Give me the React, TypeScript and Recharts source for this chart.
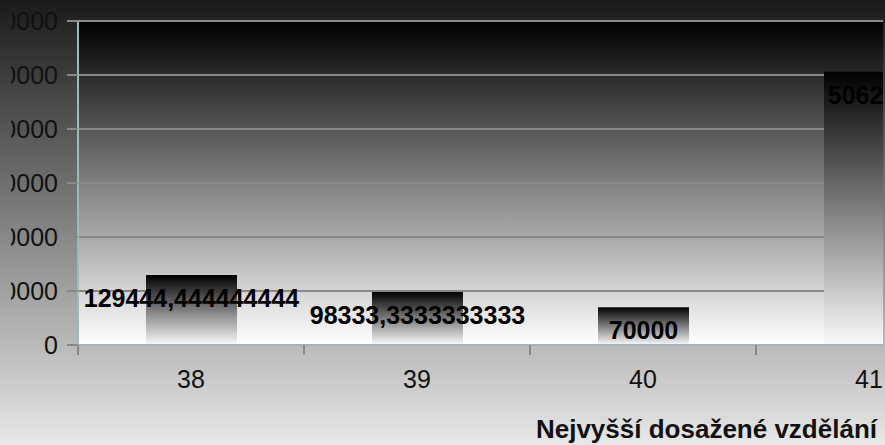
import { BarChart, Bar, XAxis, YAxis, CartesianGrid, LabelList } from "recharts";

const educationLevels = ["38", "39", "40", "41"];
const averageIncome = [129444.444444444, 98333.3333333333, 70000, 506250];
const yTicks = [0, 100000, 200000, 300000, 400000, 500000, 600000];
const axisTitle = "Nejvyšší dosažené vzdělání";

const data = educationLevels.map((level, i) => ({ level, income: averageIncome[i] }));

const FONT = '"Liberation Sans", Arial, sans-serif';
const CLIP_LEFT = 11;

// tick label at the category centre, tick mark on the category boundary
function EduTick(props: any) {
  const { x, y, payload } = props;
  const edge = x - (payload.offset ?? 0);
  return (
    <g>
      <line x1={edge} y1={y} x2={edge} y2={y + 10} stroke="#888" strokeWidth={2} />
      <text
        x={x}
        y={y + 34}
        textAnchor="middle"
        dominantBaseline="central"
        fontSize={25}
        fill="#111"
        fontFamily={FONT}
      >
        {payload.value}
      </text>
    </g>
  );
}

function ValueLabel(props: any) {
  const { x, y, width, value } = props;
  return (
    <text
      x={Number(x) + Number(width) / 2}
      y={Number(y) + 23}
      textAnchor="middle"
      dominantBaseline="central"
      fontSize={25}
      fontWeight="bold"
      fill="#000"
      fontFamily={FONT}
    >
      {String(value).replace(".", ",")}
    </text>
  );
}

export default function App() {
  return (
    <div
      style={{
        position: "absolute",
        left: 0,
        top: 0,
        width: 885,
        height: 445,
        background: "linear-gradient(to bottom, #1a1a1a, #e8e8e8)",
        fontFamily: FONT,
      }}
    >
      <div
        style={{
          position: "absolute",
          left: CLIP_LEFT,
          top: 0,
          width: 883 - CLIP_LEFT,
          height: 445,
          overflow: "hidden",
        }}
      >
        <div style={{ marginLeft: -CLIP_LEFT }}>
          <BarChart width={990} height={445} data={data} margin={{ top: 21, right: 8, left: 0, bottom: 0 }}>
            <defs>
              <linearGradient id="plotBg" x1="0" y1="0" x2="0" y2="1">
                <stop offset="0%" stopColor="#000" />
                <stop offset="100%" stopColor="#fff" />
              </linearGradient>
              <linearGradient id="barFill" x1="0" y1="0" x2="0" y2="1">
                <stop offset="0%" stopColor="#000" />
                <stop offset="100%" stopColor="#fafafa" />
              </linearGradient>
            </defs>
            <CartesianGrid vertical={false} stroke="#888" strokeWidth={2} fill="url(#plotBg)" fillOpacity={1} />
            <XAxis
              dataKey="level"
              height={100}
              interval={0}
              tickSize={0}
              tickMargin={0}
              tickLine={false}
              axisLine={{ stroke: "#a3b6bd", strokeWidth: 2 }}
              tick={EduTick}
            />
            <YAxis
              width={78}
              domain={[0, 600000]}
              ticks={yTicks}
              interval={0}
              tickSize={11}
              tickMargin={9}
              tickFormatter={(v: number) => String(v)}
              axisLine={{ stroke: "#a3b6bd", strokeWidth: 2 }}
              tickLine={{ stroke: "#888", strokeWidth: 2 }}
              tick={{ fontSize: 25, fill: "#111", fontFamily: FONT }}
            />
            <Bar dataKey="income" barSize={91} fill="url(#barFill)" isAnimationActive={false}>
              <LabelList dataKey="income" content={ValueLabel} />
            </Bar>
          </BarChart>
        </div>
      </div>
      <div
        style={{
          position: "absolute",
          right: 8,
          top: 416,
          fontSize: 26,
          lineHeight: "26px",
          fontWeight: "bold",
          color: "#111",
          whiteSpace: "nowrap",
        }}
      >
        {axisTitle}
      </div>
    </div>
  );
}
